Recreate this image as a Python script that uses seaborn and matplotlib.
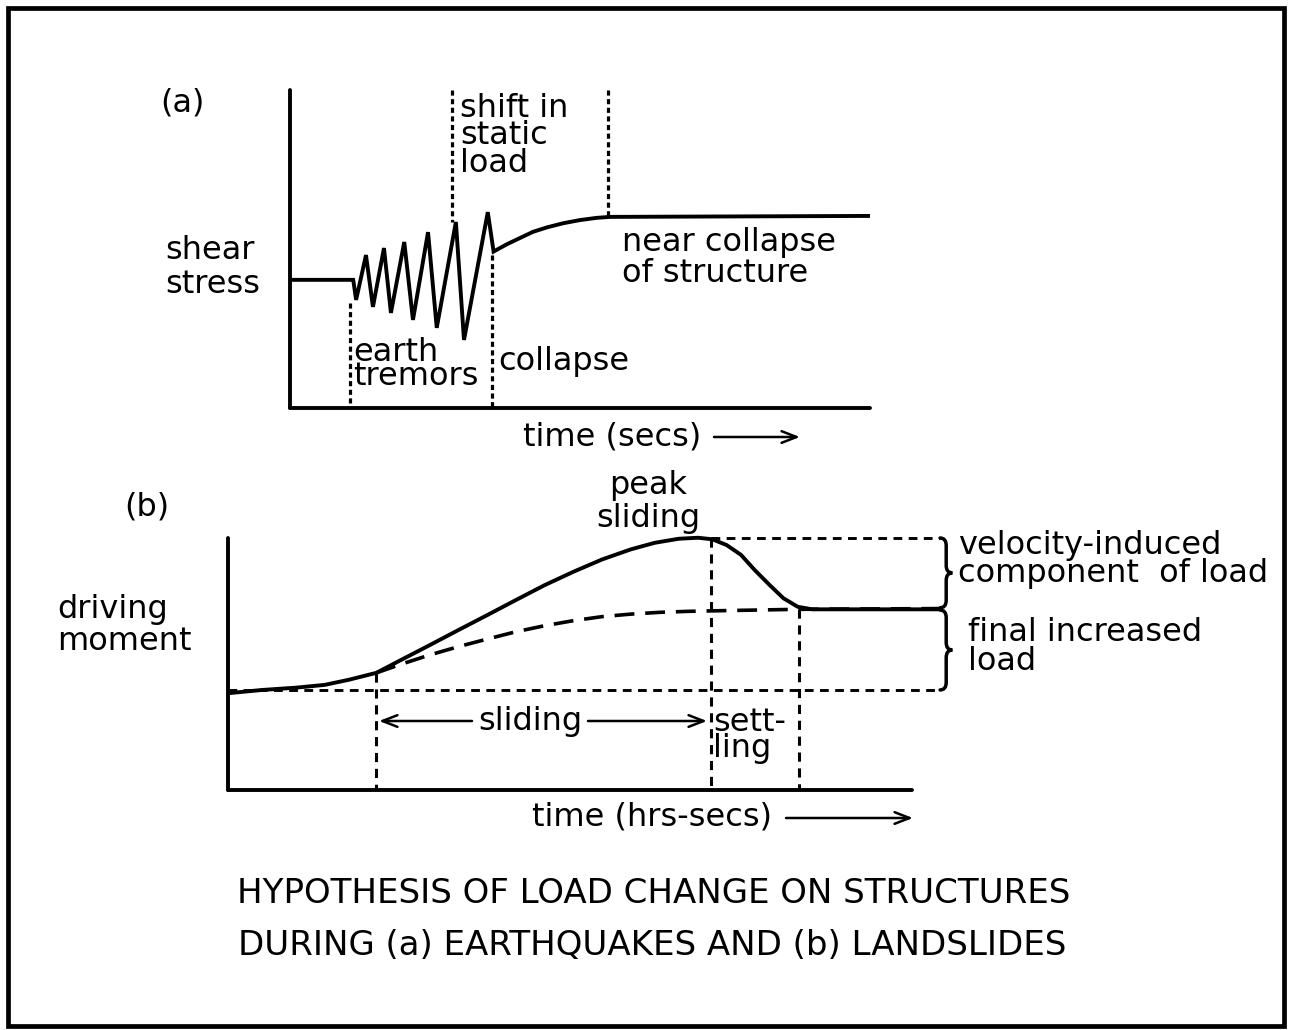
import numpy as np
import matplotlib
matplotlib.use("Agg")
import matplotlib.pyplot as plt
import seaborn as sns
from matplotlib.path import Path
from matplotlib.patches import PathPatch, Rectangle

# ---------------- data (schematic units, 0..100) ----------------
# panel (a): shear stress vs time (secs)
a_time = [0, 10.9, 11.4, 13.1, 14.3, 16.2, 17.4, 19.7, 21.2, 23.8, 25.3, 28.6,
          30.0, 34.1, 35.1, 37.4, 39.7, 41.9, 44.3, 47.1, 50.0, 52.9, 55.2, 100]
a_stress = [40.3, 40.3, 34.0, 48.1, 31.8, 50.3, 29.9, 52.2, 27.7, 55.3, 25.2, 58.5,
            21.4, 61.6, 49.2, 51.5, 53.5, 55.4, 56.8, 58.1, 59.1, 59.8, 60.1, 60.4]
# dotted markers (time, from-level, to-level)
a_mark_time = [10.3, 27.9, 34.8, 54.8]
a_mark_from = [33.0, 100, 48.1, 100]
a_mark_to = [0, 58.5, 0, 60.1]

# panel (b): driving moment vs time (hrs-secs)
b_time = [0, 5.0, 9.9, 14.1, 17.6, 21.7, 25.3, 29.5, 33.7, 37.9, 42.1, 46.3,
          50.5, 54.7, 58.9, 62.4, 65.9, 68.7, 70.8, 72.9, 75.0, 77.0, 79.2,
          81.2, 83.3, 85.4, 104.1]
b_moment = [38.4, 39.7, 40.6, 41.7, 43.7, 46.5, 51.6, 57.5, 63.5, 69.4, 75.4, 81.3,
            86.6, 91.5, 95.5, 98.1, 99.7, 100.1, 99.5, 97.2, 93.3, 87.3, 81.3,
            76.1, 72.7, 71.7, 71.7]
b_final_time = [21.7, 25.3, 29.5, 33.7, 37.9, 42.1, 46.3, 50.5, 54.7, 58.9, 63.1,
                67.3, 72.9, 83.3, 104.1]
b_final_moment = [46.5, 49.9, 53.6, 56.9, 59.9, 62.8, 65.2, 67.2, 68.8, 69.8, 70.5,
                  70.9, 71.2, 71.7, 72.0]
b_base_level = 39.7
b_peak_level = 100.0
b_mark_time = [21.7, 70.6, 83.5]
b_mark_from = [46.5, 100, 71.8]

# ---------------- figure ----------------
sns.set_theme(style="white")
plt.rcParams['font.family'] = ['DejaVu Sans']
W, H = 1291, 1030
fig = plt.figure(figsize=(W / 100, H / 100), dpi=100)
fig.patch.set_facecolor("white")
FS = 23


def box(px0, py0, px1, py1):
    return [px0 / W, 1 - py1 / H, (px1 - px0) / W, (py1 - py0) / H]


def T(px, py, lines, size=FS, gap=30, ha="left"):
    """Text (one or more lines); py = first baseline, gap = baseline distance in px."""
    if not isinstance(lines, list):
        lines = [lines]
    em = size * 100 / 72
    ls = max((gap / em - 0.236) / 0.76, 0.3)
    py_last = py + gap * (len(lines) - 1)
    fig.text(px / W, 1 - py_last / H, "\n".join(lines),
             fontsize=size, color="black", va="baseline", ha=ha,
             multialignment=ha, linespacing=ls)


def arrow(px0, px1, py):
    fig.axes[0].annotate("", xy=(px1, H - py), xytext=(px0, H - py),
                         xycoords="figure pixels", textcoords="figure pixels",
                         arrowprops=dict(arrowstyle="->,head_length=0.9,head_width=0.35",
                                         lw=1.8, color="black", shrinkA=0, shrinkB=0),
                         annotation_clip=False)


def style_axes(ax):
    ax.set_xlim(0, 100)
    ax.set_ylim(0, 100)
    ax.set_xticks([])
    ax.set_yticks([])
    for s in ["top", "right"]:
        ax.spines[s].set_visible(False)
    for s in ["left", "bottom"]:
        ax.spines[s].set_linewidth(2.8)
        ax.spines[s].set_color("black")
        ax.spines[s].set_capstyle("round")
    ax.patch.set_alpha(0)


# ---- panel (a)
axA = fig.add_axes(box(290, 90, 870, 408))
style_axes(axA)
sns.lineplot(x=a_time, y=a_stress, ax=axA, color="black", lw=2.8,
             sort=False, estimator=None)
for ln in axA.lines:
    ln.set_solid_joinstyle("miter")
for t, y0, y1 in zip(a_mark_time, a_mark_from, a_mark_to):
    axA.plot([t, t], [y0, y1], color="black", lw=2.3, ls=(0, (1.6, 1.1)),
             clip_on=False)

# ---- panel (b)
axB = fig.add_axes(box(228, 538, 912, 790))
style_axes(axB)
axB.plot([0, 104.1], [b_base_level, b_base_level], color="black", lw=2.1,
         ls=(0, (3.0, 2.2)), clip_on=False)
axB.plot([b_mark_time[1], 104.1], [b_peak_level, b_peak_level], color="black",
         lw=2.1, ls=(0, (3.0, 2.2)), clip_on=False)
sns.lineplot(x=b_final_time, y=b_final_moment, ax=axB, color="black", lw=2.6,
             sort=False, estimator=None)
axB.lines[-1].set_linestyle((0, (5.5, 3.0)))
sns.lineplot(x=b_time, y=b_moment, ax=axB, color="black", lw=2.8,
             sort=False, estimator=None)
for t, y0 in zip(b_mark_time, b_mark_from):
    axB.plot([t, t], [y0, 0], color="black", lw=2.2, ls=(0, (3.0, 2.2)),
             clip_on=False)
for ln in axB.lines:
    ln.set_clip_on(False)
    ln.set_solid_joinstyle("round")


def brace(ax, x, top, bot, w=1.8, d=3.0):
    mid = (top + bot) / 2
    verts = [(x, top), (x + w / 2, top), (x + w / 2, top - d),
             (x + w / 2, mid + d),
             (x + w / 2, mid), (x + w, mid),
             (x + w / 2, mid), (x + w / 2, mid - d),
             (x + w / 2, bot + d),
             (x + w / 2, bot), (x, bot)]
    codes = [Path.MOVETO, Path.CURVE3, Path.CURVE3, Path.LINETO,
             Path.CURVE3, Path.CURVE3, Path.CURVE3, Path.CURVE3,
             Path.LINETO, Path.CURVE3, Path.CURVE3]
    p = PathPatch(Path(verts, codes), fill=False, lw=2.5, color="black",
                  clip_on=False, capstyle="round")
    ax.add_patch(p)


brace(axB, 104.1, b_peak_level, b_final_moment[-1] + 0.3)
brace(axB, 104.1, b_final_moment[-1] - 0.6, b_base_level)

# ---------------- texts ----------------
T(160, 111, "(a)")
T(165, 258, ["shear", "stress"], gap=35)
T(460, 115, ["shift in", "static", "load"], gap=28.5)
T(622, 250, ["near collapse", "of structure"], gap=32)
T(353, 360, ["earth", "tremors"], gap=25)
T(498, 370, "collapse")
T(523, 445, "time (secs)")
arrow(714, 800, 437)

T(124, 515, "(b)")
T(57, 617, ["driving", "moment"], gap=33)
T(648, 493, ["peak", "sliding"], gap=34, ha="center")
T(958, 553, ["velocity-induced", "component  of load"], gap=29)
T(968, 640, ["final increased", "load"], gap=30)
T(478, 730, "sliding")
arrow(472, 379, 721)
arrow(588, 707, 721)
T(713, 730, ["sett-", "ling"], gap=27)
T(532, 825, "time (hrs-secs)")
arrow(786, 913, 818)

T(654, 903, "HYPOTHESIS OF LOAD CHANGE ON STRUCTURES", size=24.5, ha="center")
T(652, 955, "DURING (a) EARTHQUAKES AND (b) LANDSLIDES", size=24.5, ha="center")

fig.add_artist(Rectangle((8 / W, 1 - 1026 / H), (1284 - 8) / W, (1026 - 8) / H,
                         transform=fig.transFigure, fill=False, lw=3.4,
                         edgecolor="black"))

fig.savefig("out.png", dpi=100)
